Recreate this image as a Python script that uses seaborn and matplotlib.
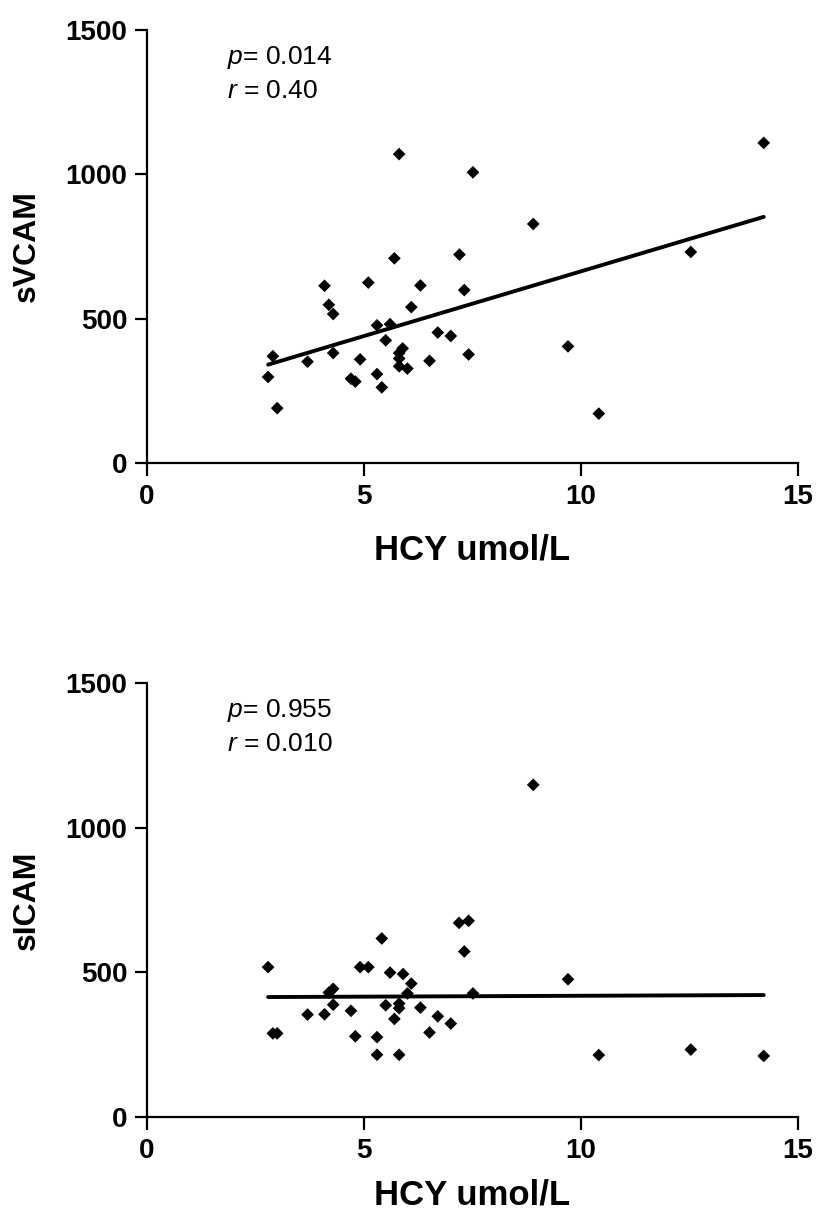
import matplotlib
matplotlib.use("Agg")
import matplotlib.pyplot as plt
import seaborn as sns
import numpy as np

# Top panel: HCY vs sVCAM
hcy_top = [14.21, 5.81, 7.51, 8.90, 12.53, 5.70, 7.20, 4.09, 5.10, 6.30, 7.31,
           4.19, 4.29, 6.09, 5.30, 5.60, 5.50, 6.70, 7.00, 9.70, 2.90, 3.70,
           4.29, 4.91, 5.89, 5.81, 5.81, 5.81, 6.00, 6.51, 7.41, 2.79, 4.70,
           4.80, 5.30, 5.41, 3.00, 10.41]
svcam = [1109, 1070, 1007, 828, 731, 709, 722, 614, 625, 615, 599,
         548, 516, 540, 477, 481, 425, 452, 440, 404, 370, 351,
         381, 359, 397, 381, 362, 335, 327, 354, 376, 298, 292,
         282, 308, 262, 190, 171]

# Bottom panel: HCY vs sICAM
hcy_bot = [8.90, 7.19, 7.41, 5.41, 7.31, 2.79, 4.91, 5.10, 5.60, 5.90, 6.09,
           9.70, 4.29, 4.19, 6.00, 7.51, 4.29, 5.50, 5.81, 5.81, 6.30, 4.70,
           3.70, 4.09, 5.70, 6.70, 7.00, 2.90, 3.00, 4.80, 5.30, 6.51, 5.30,
           5.81, 10.41, 12.53, 14.21]
sicam = [1148, 671, 678, 617, 572, 518, 518, 518, 499, 494, 461,
         476, 443, 430, 427, 427, 388, 386, 392, 376, 378, 367,
         354, 355, 339, 348, 323, 289, 289, 279, 276, 292, 215,
         215, 214, 233, 211]

x_ticks = [0, 5, 10, 15]
y_ticks = [0, 500, 1000, 1500]

sns.set_style("ticks")
plt.rcParams['font.family'] = ['Liberation Sans', 'DejaVu Sans']
plt.rcParams['text.color'] = 'black'
plt.rcParams['axes.labelcolor'] = 'black'
plt.rcParams['xtick.color'] = 'black'
plt.rcParams['ytick.color'] = 'black'
plt.rcParams['mathtext.fontset'] = 'custom'
plt.rcParams['mathtext.it'] = 'Liberation Sans:italic'
plt.rcParams['mathtext.rm'] = 'Liberation Sans'

W, H = 822, 1218
fig = plt.figure(figsize=(W / 100, H / 100), dpi=100)

def px_axes(left, top, right, bottom):
    return fig.add_axes([left / W, 1 - bottom / H, (right - left) / W, (bottom - top) / H])

ax1 = px_axes(147, 30, 798, 463)
ax2 = px_axes(147, 683, 798, 1117)

panels = [
    (ax1, hcy_top, svcam, "sVCAM", "0.014", "0.40"),
    (ax2, hcy_bot, sicam, "sICAM", "0.955", "0.010"),
]

for ax, xs, ys, ylab, pval, rval in panels:
    sns.regplot(x=xs, y=ys, ax=ax, ci=None, marker='D',
                scatter_kws={'s': 42, 'color': 'black', 'edgecolors': 'none', 'alpha': 1},
                line_kws={'color': 'black', 'lw': 2.8})
    ax.set_xlim(0, 15)
    ax.set_ylim(0, 1500)
    ax.set_xticks(x_ticks)
    ax.set_yticks(y_ticks)
    ax.set_xticklabels([str(t) for t in x_ticks], fontsize=20, fontweight='bold')
    ax.set_yticklabels([str(t) for t in y_ticks], fontsize=20, fontweight='bold')
    ax.tick_params(axis='x', length=9, width=1.6, pad=6, color='black')
    ax.tick_params(axis='y', length=9, width=1.6, pad=5, color='black')
    for s in ['left', 'bottom']:
        ax.spines[s].set_linewidth(1.6)
        ax.spines[s].set_color('black')
    sns.despine(ax=ax)
    ax.set_xlabel("HCY umol/L", fontsize=25, fontweight='bold')
    ax.set_ylabel(ylab, fontsize=23, fontweight='bold')
    ax.yaxis.set_label_coords(-0.162, 0.5)
    ax.text(1.85, 1405, r"$\it{p}$= " + pval, fontsize=19, va='center', ha='left')
    ax.text(1.85, 1288, r"$\it{r}$ = " + rval, fontsize=19, va='center', ha='left')

ax1.xaxis.set_label_coords(0.5, -0.163)
ax2.xaxis.set_label_coords(0.5, -0.142)

fig.savefig("out.png", dpi=100)
